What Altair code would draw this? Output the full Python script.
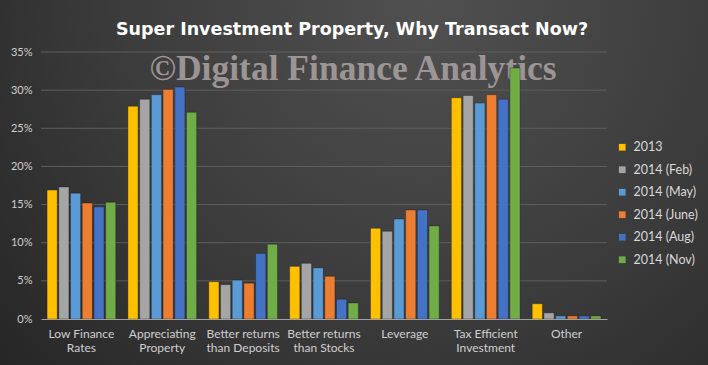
import altair as alt
import pandas as pd

categories = ["Low Finance\nRates", "Appreciating\nProperty", "Better returns\nthan Deposits",
              "Better returns\nthan Stocks", "Leverage", "Tax Efficient\nInvestment", "Other"]
series = ["2013", "2014 (Feb)", "2014 (May)", "2014 (June)", "2014 (Aug)", "2014 (Nov)"]
colors = ["#FFC000", "#A5A5A5", "#5B9BD5", "#ED7D31", "#4472C4", "#70AD47"]

v2013 = [16.9, 27.9, 4.9, 6.9, 11.9, 29.0, 2.0]
vfeb = [17.3, 28.8, 4.5, 7.3, 11.5, 29.3, 0.8]
vmay = [16.5, 29.4, 5.1, 6.7, 13.1, 28.3, 0.4]
vjune = [15.2, 30.1, 4.7, 5.6, 14.3, 29.4, 0.4]
vaug = [14.7, 30.4, 8.6, 2.6, 14.3, 28.8, 0.4]
vnov = [15.3, 27.1, 9.8, 2.1, 12.2, 32.9, 0.4]
y_ticks = [0, 5, 10, 15, 20, 25, 30, 35]
grid_ticks = [5, 10, 15, 20, 25, 30, 35]

rows = []
for s, vals in zip(series, [v2013, vfeb, vmay, vjune, vaug, vnov]):
    for c, v in zip(categories, vals):
        rows.append({"category": c, "series": s, "value": v})
df = pd.DataFrame(rows)
cat_df = pd.DataFrame({"category": categories})

W, H = 566, 267
PL, PT, PR, PB = 41, 52, 101, 46

yscale = alt.Scale(domain=[0, 35], nice=False)
xscale = alt.Scale(paddingInner=0.15, paddingOuter=0.075)
y_axis = alt.Axis(values=y_ticks, labelExpr="datum.value + '%'", title=None,
                  grid=False, domain=False, ticks=False, zindex=1,
                  labelColor="#d0d0d0", labelFontSize=11, labelFont="Lato", labelPadding=9)
x_axis = alt.Axis(labels=False, ticks=False, title=None, domainColor="#a0a0a0",
                  grid=False, zindex=1)

bg = alt.Chart(pd.DataFrame({"a": [0]})).mark_rect(
    fill=alt.Gradient(
        gradient="radial",
        stops=[alt.GradientStop(color="#505050", offset=0),
               alt.GradientStop(color="#3c3c3c", offset=0.5),
               alt.GradientStop(color="#222222", offset=1)],
        x1=0.6, y1=0.25, r1=0, x2=0.6, y2=0.25, r2=0.85),
).encode(x=alt.value(-PL), x2=alt.value(W + PR), y=alt.value(-PT), y2=alt.value(H + PB))

grid = alt.Chart(pd.DataFrame({"g": grid_ticks})).mark_rule(
    color="#5e5e5e", strokeWidth=1
).encode(y=alt.Y("g:Q", scale=yscale, axis=y_axis, title=None), x=alt.value(0), x2=alt.value(W))

title = alt.Chart(pd.DataFrame({"t": ["Super  Investment  Property,  Why  Transact  Now?"]})).mark_text(
    font="DejaVu Sans", fontWeight="bold", fontSize=17.5, color="#ffffff", align="center", baseline="middle"
).encode(x=alt.value(352 - PL), y=alt.value(30 - PT), text="t:N")

watermark = alt.Chart(pd.DataFrame({"t": ["©Digital Finance Analytics"]})).mark_text(
    font="Liberation Serif", fontWeight="bold", fontSize=35.5, color="#a39c9c", align="center",
    baseline="middle", opacity=0.92
).encode(x=alt.value(353 - PL), y=alt.value(69 - PT), text="t:N")

bars = alt.Chart(df).mark_bar(stroke="#1a1a1a", strokeWidth=0.6, strokeOpacity=0.6).encode(
    x=alt.X("category:N", sort=categories, scale=xscale, axis=x_axis),
    xOffset=alt.XOffset("series:N", sort=series, scale=alt.Scale(paddingInner=0.13)),
    y=alt.Y("value:Q", scale=yscale, axis=y_axis),
    color=alt.Color("series:N", sort=series, scale=alt.Scale(domain=series, range=colors),
                    legend=alt.Legend(title=None, orient="none", legendX=575, legendY=89,
                                      symbolType="square", symbolSize=45, labelColor="#d8d8d8",
                                      labelFontSize=12.5, labelFont="Lato", rowPadding=9.5,
                                      symbolStrokeWidth=0, labelOffset=5)),
)

labels = alt.Chart(cat_df).mark_text(
    font="Lato", fontSize=12, color="#cfcfcf", align="center", baseline="top",
    lineBreak="\n", lineHeight=14
).encode(x=alt.X("category:N", sort=categories, scale=xscale, axis=x_axis),
         y=alt.value(H + 10), text="category:N")

chart = alt.layer(bg, grid, watermark, bars, labels, title).properties(
    width=W, height=H,
    autosize=alt.AutoSizeParams(type="none"),
    padding={"left": PL, "top": PT, "right": PR, "bottom": PB},
    background="#2a2a2a",
).configure_view(stroke=None)

chart.save("out.html", embed_options={"renderer": "svg", "actions": False})
